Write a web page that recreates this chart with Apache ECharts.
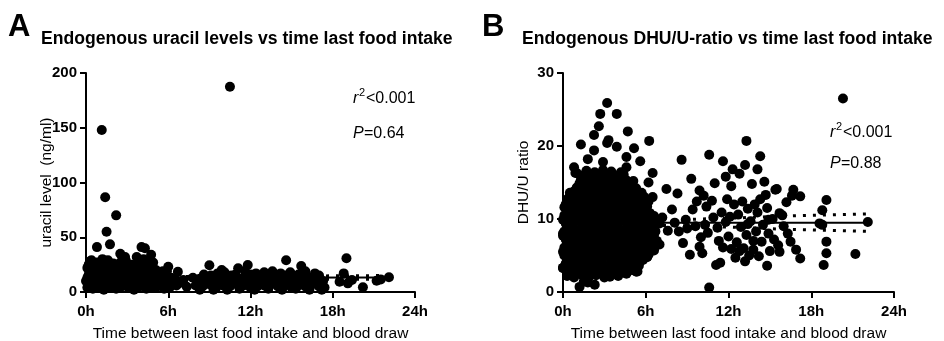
<!DOCTYPE html>
<html>
<head>
<meta charset="utf-8">
<script src="https://cdn.jsdelivr.net/npm/echarts@6/dist/echarts.min.js"></script>
<style>
  html, body { margin: 0; padding: 0; background: #fff; }
  #chart { width: 944px; height: 341px; }
</style>
</head>
<body>
<div id="chart"></div>
<script>
// hours since last food intake -> uracil level (ng/ml)
const uracilPoints = [
  // dense cluster 0-7h
  [0.1,4],[0.5,3],[0.9,5],[1.3,2],[1.8,4],[2.2,3],[2.6,5],[3.1,4],[3.5,2],[3.9,5],[4.4,3],[4.8,4],[5.2,5],[5.7,3],[6.1,4],[6.6,6],
  [0.3,7],[0.7,6],[1.1,8],[1.6,7],[2.0,6],[2.5,8],[2.9,7],[3.4,6],[3.8,8],[4.3,7],[4.7,6],[5.2,8],[5.6,7],[6.1,6],[6.5,7],
  [0.0,10],[0.3,12],[0.7,9],[1.1,11],[1.5,8],[2.0,10],[2.4,12],[2.9,9],[3.3,11],[3.7,10],[4.2,8],[4.6,12],[5.0,9],[5.5,11],[5.9,10],[6.3,9],[6.8,8],
  [0.1,13],[0.5,14],[0.9,12],[1.4,13],[1.8,14],[2.2,12],[2.7,13],[3.1,14],[3.5,12],[4.0,13],[4.4,14],[4.8,12],[5.3,13],[5.7,12],[6.1,11],[6.5,12],
  [0.2,16],[0.6,15],[1.0,18],[1.4,14],[1.9,17],[2.3,15],[2.7,16],[3.2,18],[3.6,14],[4.0,16],[4.5,17],[4.9,15],[5.3,14],[5.8,16],[6.2,13],
  [0.3,19],[0.7,20],[1.1,18],[1.6,19],[2.0,20],[2.4,18],[2.8,19],[3.3,20],[3.7,18],[4.1,19],[4.6,20],[5.0,18],[5.4,17],[5.9,19],
  [0.1,22],[0.5,24],[0.9,21],[1.3,23],[1.7,25],[2.1,22],[2.6,21],[3.0,24],[3.4,22],[3.9,23],[4.3,21],[4.7,24],[5.1,20],[5.6,19],
  [0.2,25],[0.6,26],[1.0,24],[1.4,26],[1.9,25],[2.3,24],[2.8,26],[3.2,25],[3.6,24],[4.0,26],[4.4,25],[4.9,27],
  [0.3,28],[0.8,27],[1.2,30],[1.6,29],[2.0,26],[2.5,27],[2.9,29],[3.3,25],[3.8,28],[4.2,30],[4.6,26],
  [0.4,29],[0.8,41],[1.75,43.5],[2.5,35],[2.85,32],[3.7,32],[4.05,41],[4.3,40],[4.75,34],[6.0,23],[6.7,18.5],[7.35,4.8],[7.1,11],
  [1.15,148],[1.4,86.5],[1.5,55],[2.2,70],
  // 8-18h band
  [8.3,2],[9.3,2],[10.3,2],[11.2,3],[12.3,2],[13.3,3],[14.3,2],[15.3,3],[16.3,2],[17.2,2],
  [8.0,6],[8.5,5],[9.0,7],[9.5,4],[10.0,6],[10.5,5],[11.0,7],[11.5,6],[12.0,4],[12.5,5],[13.0,6],[13.5,7],[14.0,5],[14.5,6],[15.0,4],[15.5,6],[16.0,5],[16.5,7],[17.0,5],[17.4,4],
  [8.2,9],[8.7,8],[9.2,9],[9.7,8],[10.2,9],[10.7,8],[11.2,9],[11.7,8],[12.2,9],[12.7,8],[13.2,9],[13.7,8],[14.2,9],[14.7,8],[15.2,9],[15.7,8],[16.2,9],[16.7,8],[17.2,8],
  [7.8,13],[8.3,12],[8.8,11],[9.3,14],[9.8,12],[10.3,13],[10.8,11],[11.3,12],[11.8,14],[12.3,12],[12.8,13],[13.3,11],[13.8,14],[14.3,12],[14.8,13],[15.3,12],[15.8,11],[16.3,13],[16.8,12],[17.3,10],
  [9.1,15],[10.6,15],[12.0,16],[13.3,15],[14.6,15],[15.9,15],[17.0,15],
  [8.6,16],[9.6,17],[10.1,18],[10.9,16],[11.6,19],[12.4,17],[13.0,18],[13.6,19],[14.2,17],[14.9,18],[15.5,16],[16.0,19],[16.7,17],
  [9.0,24.5],[9.9,20],[11.1,21.6],[11.8,24.6],[14.6,29],[15.7,23.7],[10.5,187.5],
  // after 18h
  [18.5,9.4],[18.8,17],[19.0,30.8],[19.1,7.9],[19.4,11],[20.2,4.3],[21.2,10.3],[21.5,11.5],[22.1,13.4]
];
const uracilFit = [[0,13.0],[22.1,13.3]];
const uracilUpper = [[0,14.4],[4,14.1],[8,14.2],[12,14.4],[16,14.6],[20,14.9],[22.1,15.0]];
const uracilLower = [[0,11.6],[4,11.9],[8,11.8],[12,11.8],[16,11.7],[20,11.6],[22.1,11.6]];

// hours since last food intake -> DHU/U ratio
const ratioPoints = [
  // dense cluster 0-7h
  [1.2,0.7],[1.5,1.4],[2.3,1.0],[1.8,1.3],
  [0.3,2.2],[0.8,2.0],[1.3,2.4],[1.9,2.1],[2.4,2.3],[3.0,2.0],[3.5,2.4],[4.0,2.2],[4.6,2.5],[5.3,2.8],
  [0.6,2.8],[1.1,2.9],[1.7,2.7],[2.2,2.9],[2.8,2.8],[3.3,2.7],[3.9,2.9],[4.4,2.8],[5.0,3.0],
  [0.0,3.3],[0.5,3.5],[1.0,3.2],[1.6,3.4],[2.1,3.3],[2.7,3.6],[3.2,3.2],[3.8,3.4],[4.3,3.5],[4.9,3.2],[5.5,3.6],
  [0.2,3.9],[0.7,4.0],[1.2,3.8],[1.8,4.0],[2.3,3.9],[2.8,4.1],[3.4,3.8],[3.9,4.0],[4.5,3.9],[5.0,4.1],[5.5,3.9],
  [0.3,4.4],[0.8,4.6],[1.3,4.3],[1.9,4.5],[2.4,4.4],[2.9,4.7],[3.5,4.3],[4.0,4.5],[4.6,4.4],[5.1,4.6],[5.7,4.4],[6.1,4.8],
  [0.1,5.0],[0.6,4.9],[1.2,5.1],[1.7,5.0],[2.3,4.9],[2.8,5.1],[3.4,5.0],[3.9,4.9],[4.5,5.1],[5.0,5.0],[5.6,4.9],[6.2,5.1],
  [0.0,5.5],[0.5,5.6],[1.1,5.4],[1.6,5.7],[2.1,5.5],[2.7,5.3],[3.2,5.6],[3.8,5.5],[4.3,5.7],[4.9,5.4],[5.4,5.6],[6.0,5.5],[6.6,5.7],
  [0.1,6.1],[0.6,6.0],[1.2,6.2],[1.7,6.1],[2.3,6.0],[2.8,6.2],[3.4,6.1],[3.9,6.0],[4.5,6.2],[5.0,6.1],[5.6,6.0],[6.2,6.2],[6.7,6.3],
  [0.3,6.6],[0.8,6.8],[1.3,6.5],[1.9,6.7],[2.4,6.6],[3.0,6.9],[3.5,6.5],[4.1,6.7],[4.6,6.6],[5.2,6.8],[5.7,6.5],[6.3,6.7],
  [0.2,7.2],[0.7,7.1],[1.3,7.3],[1.8,7.2],[2.4,7.1],[2.9,7.3],[3.5,7.2],[4.0,7.1],[4.6,7.3],[5.1,7.2],[5.7,7.1],[6.2,7.3],[6.8,7.0],
  [0.0,7.7],[0.5,7.9],[1.1,7.6],[1.6,7.8],[2.2,7.7],[2.7,7.5],[3.3,7.9],[3.8,7.7],[4.4,7.6],[4.9,7.9],[5.5,7.7],[6.0,7.5],[6.6,7.8],
  [0.1,8.3],[0.6,8.2],[1.2,8.4],[1.7,8.3],[2.3,8.2],[2.8,8.4],[3.4,8.3],[3.9,8.2],[4.5,8.4],[5.0,8.3],[5.6,8.2],[6.1,8.4],[6.7,8.3],
  [0.3,8.8],[0.8,8.6],[1.4,8.9],[1.9,8.8],[2.5,8.7],[3.0,9.0],[3.6,8.8],[4.1,8.6],[4.7,8.9],[5.2,8.8],[5.8,8.6],[6.4,8.9],
  [0.2,9.4],[0.7,9.3],[1.3,9.5],[1.8,9.4],[2.4,9.3],[2.9,9.5],[3.5,9.4],[4.0,9.3],[4.6,9.5],[5.1,9.4],[5.7,9.3],[6.2,9.5],
  [0.0,9.9],[0.5,10.1],[1.1,9.8],[1.6,10.0],[2.2,9.9],[2.7,10.2],[3.3,9.8],[3.8,10.0],[4.4,9.9],[4.9,10.1],[5.5,9.8],[6.0,10.0],[6.7,9.9],
  [0.1,10.5],[0.6,10.4],[1.2,10.6],[1.7,10.5],[2.3,10.4],[2.8,10.6],[3.4,10.5],[3.9,10.4],[4.5,10.6],[5.0,10.5],[5.6,10.4],[6.1,10.6],[6.6,10.4],
  [0.3,11.0],[0.8,11.2],[1.4,10.9],[1.9,11.1],[2.5,11.0],[3.0,10.8],[3.6,11.2],[4.1,11.0],[4.7,10.9],[5.2,11.1],[5.8,11.0],[6.3,10.8],
  [0.1,11.6],[0.6,11.5],[1.2,11.7],[1.7,11.6],[2.3,11.5],[2.8,11.7],[3.4,11.6],[3.9,11.5],[4.5,11.7],[5.0,11.6],[5.6,11.5],[6.1,11.7],
  [0.2,12.0],[0.6,12.2],[1.1,12.1],[1.7,11.9],[2.2,12.2],[2.8,12.0],[3.3,12.1],[3.9,11.9],[4.4,12.2],[5.0,12.1],[5.5,11.9],[6.0,12.1],
  [0.3,12.7],[0.8,12.6],[1.4,12.8],[1.9,12.7],[2.5,12.6],[3.0,12.8],[3.6,12.7],[4.1,12.6],[4.7,12.8],[5.2,12.7],[5.8,12.6],[6.2,12.4],
  [0.5,13.2],[1.0,13.4],[1.6,13.1],[2.1,13.3],[2.7,13.2],[3.2,13.0],[3.8,13.4],[4.3,13.2],[4.9,13.1],[5.4,13.3],[5.9,13.0],
  [0.8,13.8],[1.3,13.7],[1.9,13.9],[2.4,13.8],[3.0,13.7],[3.5,13.9],[4.1,13.8],[4.6,13.7],[5.2,13.9],[5.7,13.6],
  [1.0,14.3],[1.5,14.5],[2.0,14.2],[2.6,14.4],[3.1,14.3],[3.7,14.1],[4.2,14.5],[4.8,14.3],[5.3,14.2],
  [1.2,14.9],[1.7,14.8],[2.3,15.0],[2.8,14.9],[3.4,14.8],[3.9,15.0],[4.5,14.9],[5.0,14.8],
  [1.3,15.4],[1.9,15.6],[2.4,15.3],[3.0,15.5],[3.5,15.4],[4.1,15.6],[4.6,15.3],[5.1,15.2],
  [1.5,16.0],[2.1,15.9],[2.6,16.1],[3.2,16.0],[3.8,15.9],[4.4,16.1],
  [0.9,16.3],[1.7,16.6],[2.3,16.4],[2.9,16.7],[3.5,16.5],[4.2,16.4],[0.8,17.1],[4.6,17.1],[2.9,17.8],
  [0.5,13.6],[7.0,9.4],[6.5,13.0],[6.5,5.7],[5.8,4.4],[5.4,2.8],[3.4,2.1],[0.0,8.0],
  // upper part of the cluster
  [3.2,25.9],[2.7,24.4],[3.9,24.4],[2.6,22.7],[2.25,21.5],[4.7,22.0],[1.3,20.2],[6.25,20.7],[3.3,20.8],[3.2,20.4],
  [3.9,19.9],[5.15,19.7],[1.8,18.2],[2.25,19.4],[4.6,18.5],[5.6,17.9],[6.5,16.3],[1.0,16.3],[6.2,15.0],
  [6.1,4.8],[5.3,2.8],[0.0,3.3],
  // 7-18h
  [7.5,14.1],[8.3,13.5],[8.6,18.1],[9.9,13.9],[10.6,18.8],[11.6,17.9],[12.3,16.8],[12.8,16.2],[11.8,15.8],[13.3,20.7],
  [13.2,17.4],[14.3,18.6],[14.1,16.8],[15.4,14.0],[16.7,14.0],[16.6,13.2],[17.2,13.1],[15.5,14.1],
  [7.2,10.2],[7.9,11.3],[8.4,8.3],[8.7,6.7],[8.9,9.9],[9.2,5.1],[9.4,11.3],[9.9,6.2],[10.1,5.3],[10.3,9.2],[10.4,11.7],
  [10.5,8.1],[10.6,0.6],[11.1,3.7],[11.4,4.0],[13.2,4.2],[14.8,3.6],[15.6,6.4],[15.7,5.5],[15.7,10.8],[15.9,10.5],
  [16.3,8.0],[16.5,6.9],[16.9,5.8],[17.2,4.6],
  [10.9,10.2],[11.2,8.8],[11.5,10.9],[11.8,9.6],[12.0,7.6],[11.3,7.0],[12.2,5.9],[11.6,6.1],[12.6,6.8],[12.9,8.9],
  [12.7,10.6],[13.0,12.4],[13.4,11.4],[13.6,9.7],[13.3,7.8],[13.8,5.8],[13.5,5.0],[14.0,8.3],[14.1,10.9],[14.3,12.7],
  [14.5,9.2],[14.4,6.9],[14.8,11.5],[14.9,8.0],[15.0,5.6],[15.2,10.0],[14.7,13.3],[12.4,12.0],[11.9,12.7],[10.8,12.5],
  [10.2,13.2],[9.6,9.0],[9.0,8.7],[8.1,9.5],[7.6,8.4],[7.0,6.5],[6.8,9.6],[12.5,4.7],[13.1,6.0],[14.2,4.9],
  [15.3,7.2],[16.0,9.0],[16.2,12.3],[10.0,7.5],[9.7,12.4],[11.0,14.9],[12.2,14.5],[13.7,14.8],[14.6,15.1],[9.3,15.5],
  [13.9,12.0],[13.4,9.3],[12.1,10.3],[14.9,9.9],[13.8,7.0],[12.8,5.6],
  // after 18h
  [18.6,9.4],[18.8,11.2],[19.1,12.6],[19.1,6.9],[19.1,5.3],[18.9,3.7],[20.3,26.5],[21.2,5.2],[22.1,9.6],[18.8,9.2]
];
const ratioFit = [[0,9.5],[22.1,9.5]];
const ratioUpper = [[0,9.9],[4,9.8],[8,9.9],[12,10.1],[16,10.4],[20,10.6],[22.1,10.7]];
const ratioLower = [[0,9.1],[4,9.2],[8,9.1],[12,8.9],[16,8.6],[20,8.4],[22.1,8.3]];

const hourTicks = [0, 6, 12, 18, 24];

const FONT = 'Arial, "Liberation Sans", sans-serif';
const chart = echarts.init(document.getElementById('chart'));

function xAxisDef(gridIndex) {
  return {
    gridIndex: gridIndex,
    type: 'value',
    min: hourTicks[0],
    max: hourTicks[hourTicks.length - 1],
    interval: 6,
    name: 'Time between last food intake and blood draw',
    nameLocation: 'middle',
    nameGap: 34,
    nameMoveOverlap: false,
    nameTextStyle: { color: '#000', fontSize: 15.5, fontFamily: FONT },
    axisLine: { lineStyle: { color: '#000', width: 2 } },
    axisTick: { length: 6, lineStyle: { color: '#000', width: 2 } },
    axisLabel: { color: '#000', fontSize: 15, fontWeight: 'bold', fontFamily: FONT, margin: 12, formatter: '{value}h' },
    splitLine: { show: false }
  };
}

function yAxisDef(gridIndex, max, interval, name) {
  return {
    gridIndex: gridIndex,
    type: 'value',
    min: 0,
    max: max,
    interval: interval,
    name: name,
    nameLocation: 'middle',
    nameGap: 31,
    nameMoveOverlap: false,
    nameTextStyle: { color: '#000', fontSize: 15.5, fontFamily: FONT },
    axisLine: { show: true, lineStyle: { color: '#000', width: 2 } },
    axisTick: { show: true, length: 6, lineStyle: { color: '#000', width: 2 } },
    axisLabel: { color: '#000', fontSize: 15, fontWeight: 'bold', fontFamily: FONT, margin: 9 },
    splitLine: { show: false }
  };
}

function lineSeries(axisIdx, data, dotted) {
  return {
    type: 'line',
    xAxisIndex: axisIdx,
    yAxisIndex: axisIdx,
    data: data,
    showSymbol: false,
    silent: true,
    z: 3,
    lineStyle: dotted
      ? { color: '#000', width: 3, type: [3, 7] }
      : { color: '#000', width: 2 }
  };
}

function statText(x, y, gap, rText, pText) {
  const base = { fontSize: 16, fontFamily: FONT, fill: '#000' };
  return [
    { type: 'text', left: x, top: y, style: Object.assign({ text: 'r', fontStyle: 'italic' }, base) },
    { type: 'text', left: x + 6, top: y - 4, style: { text: '2', fontSize: 11, fontFamily: FONT, fill: '#000' } },
    { type: 'text', left: x + 13, top: y, style: Object.assign({ text: rText }, base) },
    { type: 'text', left: x, top: y + gap, style: Object.assign({ text: 'P', fontStyle: 'italic' }, base) },
    { type: 'text', left: x + 11, top: y + gap, style: Object.assign({ text: pText }, base) }
  ];
}

chart.setOption({
  animation: false,
  textStyle: { fontFamily: FONT },
  grid: [
    { left: 86, right: 529, top: 73, bottom: 49, outerBoundsMode: 'none', containLabel: false },
    { left: 563, right: 50, top: 73, bottom: 49, outerBoundsMode: 'none', containLabel: false }
  ],
  xAxis: [xAxisDef(0), xAxisDef(1)],
  yAxis: [
    yAxisDef(0, 200, 50, 'uracil level  (ng/ml)'),
    yAxisDef(1, 30, 10, 'DHU/U ratio')
  ],
  graphic: [
    { type: 'text', left: 8, top: 12, style: { text: 'A', fontSize: 31, fontWeight: 'bold', fontFamily: FONT, fill: '#000' } },
    { type: 'text', left: 41, top: 30, style: { text: 'Endogenous uracil levels vs time last food intake', fontSize: 17.6, fontWeight: 'bold', fontFamily: FONT, fill: '#000' } },
    { type: 'text', left: 482, top: 12, style: { text: 'B', fontSize: 31, fontWeight: 'bold', fontFamily: FONT, fill: '#000' } },
    { type: 'text', left: 522, top: 30, style: { text: 'Endogenous DHU/U-ratio vs time last food intake', fontSize: 17.6, fontWeight: 'bold', fontFamily: FONT, fill: '#000' } }
  ].concat(statText(353, 91, 35, '<0.001', '=0.64'), statText(830, 125, 31, '<0.001', '=0.88')),
  series: [
    {
      type: 'scatter',
      xAxisIndex: 0,
      yAxisIndex: 0,
      data: uracilPoints,
      symbol: 'circle',
      symbolSize: 10,
      itemStyle: { color: '#000', opacity: 1 }
    },
    lineSeries(0, uracilFit, false),
    lineSeries(0, uracilUpper, true),
    lineSeries(0, uracilLower, true),
    {
      type: 'scatter',
      xAxisIndex: 1,
      yAxisIndex: 1,
      data: ratioPoints,
      symbol: 'circle',
      symbolSize: 10,
      itemStyle: { color: '#000', opacity: 1 }
    },
    lineSeries(1, ratioFit, false),
    lineSeries(1, ratioUpper, true),
    lineSeries(1, ratioLower, true)
  ]
});
</script>
</body>
</html>
